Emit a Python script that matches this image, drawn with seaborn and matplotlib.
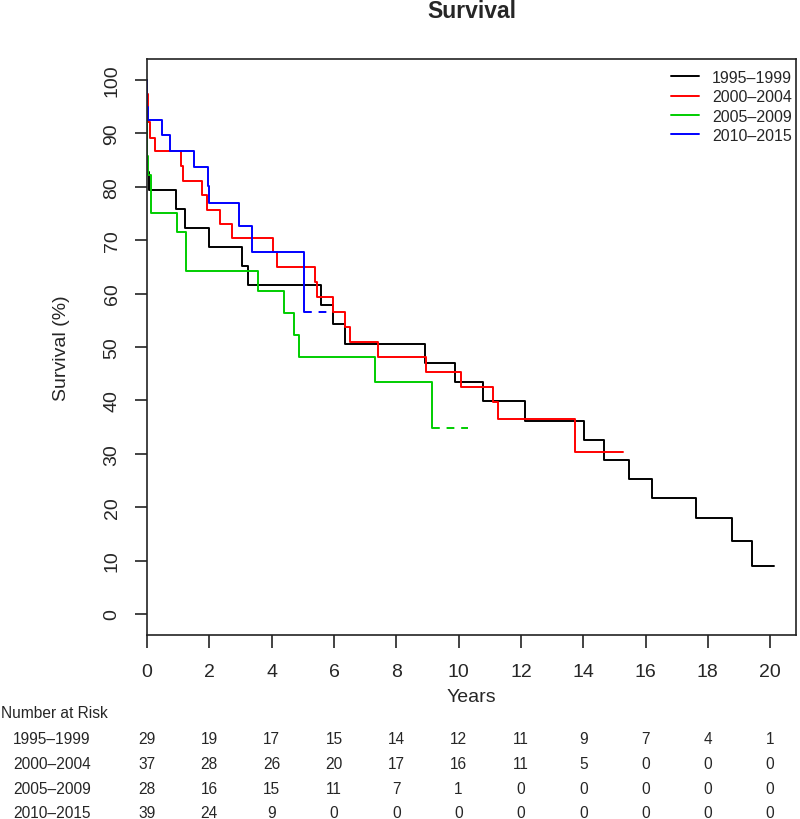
import pandas as pd
import matplotlib
matplotlib.use('Agg')
import matplotlib.pyplot as plt
import matplotlib.transforms as mtransforms
import seaborn as sns

groups = ['1995–1999', '2000–2004', '2005–2009', '2010–2015']
colors = ['#000000', '#FF0000', '#00CD00', '#0000FF']

# Kaplan-Meier step points (time in years, survival % from that time on)
t_9599 = [0, 0, 0.06, 0.92, 1.22, 2.0, 3.04, 3.23, 5.59, 5.98, 6.36, 8.92, 9.89,
          10.8, 12.13, 14.03, 14.68, 15.47, 16.21, 17.62, 18.77, 19.43, 20.13]
s_9599 = [100, 82.8, 79.3, 75.8, 72.3, 68.7, 65.1, 61.5, 57.9, 54.3, 50.6, 47.0, 43.4,
          39.8, 36.2, 32.6, 28.9, 25.3, 21.7, 18.0, 13.6, 9.0, 9.0]

t_0004 = [0, 0, 0.02, 0.1, 0.26, 1.08, 1.15, 1.78, 1.94, 2.34, 2.72, 4.06, 4.16, 5.39,
          5.47, 5.98, 6.36, 6.52, 7.43, 8.96, 10.07, 11.12, 11.28, 13.74, 15.29]
s_0004 = [100, 97.3, 92.1, 89.2, 86.6, 83.8, 81.1, 78.5, 75.7, 73.1, 70.3, 67.7, 64.9, 62.1,
          59.3, 56.5, 53.7, 50.9, 48.1, 45.3, 42.5, 39.6, 36.5, 30.4, 30.4]

t_0509 = [0, 0, 0.02, 0.13, 0.97, 1.24, 3.57, 4.40, 4.72, 4.89, 7.32, 9.15]
s_0509 = [100, 85.7, 82.1, 75.1, 71.5, 64.3, 60.4, 56.3, 52.3, 48.2, 43.4, 34.8]

t_1015 = [0, 0, 0.02, 0.49, 0.73, 1.51, 1.97, 2.0, 2.95, 3.38, 5.04]
s_1015 = [100, 94.9, 92.4, 89.6, 86.7, 83.6, 80.2, 76.9, 72.7, 67.8, 56.5]

# dashed tails: last value carried on to the last follow-up
tail_groups = ['2005–2009', '2010–2015']
tail_t = [[9.15, 10.31], [5.04, 5.98]]
tail_s = [[34.8, 34.8], [56.5, 56.5]]

risk_times = [0, 2, 4, 6, 8, 10, 12, 14, 16, 18, 20]
risk_9599 = [29, 19, 17, 15, 14, 12, 11, 9, 7, 4, 1]
risk_0004 = [37, 28, 26, 20, 17, 16, 11, 5, 0, 0, 0]
risk_0509 = [28, 16, 15, 11, 7, 1, 0, 0, 0, 0, 0]
risk_1015 = [39, 24, 9, 0, 0, 0, 0, 0, 0, 0, 0]

times = [t_9599, t_0004, t_0509, t_1015]
survs = [s_9599, s_0004, s_0509, s_1015]
risks = [risk_9599, risk_0004, risk_0509, risk_1015]

df = pd.concat([pd.DataFrame({'time': t, 'surv': s, 'group': g})
                for g, t, s in zip(groups, times, survs)], ignore_index=True)
tails = pd.concat([pd.DataFrame({'time': t, 'surv': s, 'group': g})
                   for g, t, s in zip(tail_groups, tail_t, tail_s)], ignore_index=True)

sns.set_style('ticks')
plt.rcParams['font.family'] = ['Liberation Sans', 'DejaVu Sans']

W, H = 800, 820
fig = plt.figure(figsize=(8, 8.2), dpi=100)
ax = fig.add_axes([147 / W, 1 - 636 / H, 649 / W, 576 / H])

palette = dict(zip(groups, colors))
sns.lineplot(data=df, x='time', y='surv', hue='group', palette=palette,
             estimator=None, sort=False, drawstyle='steps-post', linewidth=1.4, ax=ax)
sns.lineplot(data=tails, x='time', y='surv', hue='group', palette=palette,
             estimator=None, sort=False, linewidth=1.4, dashes=False,
             linestyle=(0, (4, 3.5)), legend=False, ax=ax)

ax.set_xlim(0, 20.83)
ax.set_ylim(-3.93, 103.9)
ax.set_xticks(risk_times)
ax.set_yticks(range(0, 101, 10))
for sp in ax.spines.values():
    sp.set_visible(True)
    sp.set_color('#222222')
    sp.set_linewidth(1.2)
ax.tick_params(axis='both', direction='out', length=9, width=1.2, labelsize=14, color='#222222')
ax.tick_params(axis='x', pad=11)
ax.tick_params(axis='y', pad=10, labelrotation=90)
for lab in ax.get_yticklabels():
    lab.set_va('center')

ax.set_xlabel('Years', fontsize=14)
ax.set_ylabel('Survival (%)', fontsize=14)
ax.xaxis.set_label_coords(0.5, -0.092)
ax.yaxis.set_label_coords(-0.1186, 0.5)
ax.set_title('Survival', fontsize=16.5, fontweight='bold', pad=30)

handles, labels = ax.get_legend_handles_labels()
ax.legend(handles, labels, frameon=False, loc='upper right', bbox_to_anchor=(0.994, 0.981),
          borderaxespad=0, borderpad=0, handlelength=1.8, handletextpad=0.8,
          labelspacing=0.27, fontsize=11.5)

# number at risk table
trans = mtransforms.blended_transform_factory(ax.transData, fig.transFigure)
fig.text(1 / W, 1 - 714 / H, 'Number at Risk', fontsize=11.2, va='center')
row_y = [739.3, 764.3, 789.3, 814]
for g, r, y in zip(groups, risks, row_y):
    fig.text(13 / W, 1 - y / H, g, fontsize=11.2, va='center')
    for t, n in zip(risk_times, r):
        ax.text(t, 1 - y / H, str(n), transform=trans, fontsize=11.2,
                ha='center', va='center', clip_on=False)

fig.savefig('out.png', dpi=100)
